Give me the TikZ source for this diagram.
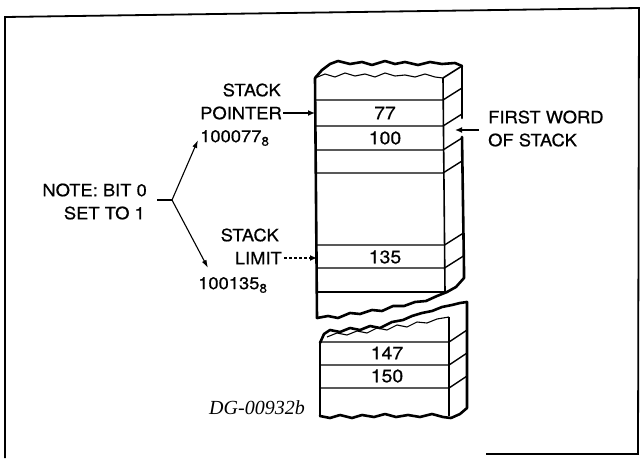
\documentclass[tikz,border=0pt]{standalone}
\usepackage{fontspec}
\setmainfont[FakeStretch=1.08,FakeBold=0.6]{TeX Gyre Heros}
\newfontfamily\capfont{Liberation Serif}
\usetikzlibrary{arrows.meta}
\newcommand{\octsub}[1]{\raisebox{-3.5pt}{\fontsize{12.5}{13}\selectfont #1}}
\begin{document}
\begin{tikzpicture}[x=1pt,y=-1pt,
  lbl/.style={font=\fontsize{17}{19}\selectfont, inner sep=0pt},
  cell/.style={font=\fontsize{18}{19}\selectfont, inner sep=0pt},
  edge/.style={line width=1.6pt, line join=round},
  thick edge/.style={line width=2.6pt, line join=round, line cap=round},
  rowline/.style={line width=1.4pt},
  ptr/.style={line width=1.3pt, -{Latex[length=7pt,width=6pt]}},
  dptr/.style={line width=1.3pt, dashed, dash pattern=on 3pt off 2pt, -{Latex[length=7pt,width=6pt]}},
  brn/.style={line width=1.1pt, -{Latex[length=8pt,width=5pt]}}]
\useasboundingbox (0,0) rectangle (640,458);
% frame
\draw[line width=1.8pt] (5,458) -- (5,17) -- (639,8) -- (638,454) -- (486,454);

% ---------- upper block ----------
\coordinate (ufl) at (315,78);
\coordinate (ufr) at (443,78);
\coordinate (ubr) at (462,66);
% top surface
\draw[thick edge] (315,78) -- (322,70) -- (330,64) -- (338,61) -- (350,64) -- (362,62) -- (372,65) -- (385,61) -- (395,64) -- (405,62) -- (418,65) -- (430,62) -- (442,64) -- (455,63) -- (ubr);
\draw[line width=1.1pt] (ufl) -- (325,74) -- (335,77) -- (345,73) -- (355,76) -- (365,74) -- (375,77) -- (385,73) -- (395,76) -- (405,75) -- (415,77) -- (425,74) -- (435,77) -- (ufr);
\draw[edge] (ufr) -- (ubr);
% front verticals
\draw[thick edge] (ufl) -- (317,318);
\draw[edge] (ufr) -- (445,292);
% side right edge with gap
\draw[thick edge] (ubr) -- (462,118);
\draw[thick edge] (462,137) -- (464,270) -- (464,278) -- (456,287) -- (447,292);
% bottom broken edge
\draw[thick edge] (317,318) -- (328,316) -- (338,318) -- (350,313) -- (360,314) -- (372,310) -- (382,311) -- (393,306) -- (404,306) -- (415,302) -- (426,301) -- (437,296) -- (447,292);
% rows
\foreach \y/\e in {100/0,126/0,150/0,173/0,245/1,268/1}{
  \draw[rowline] (315.5+\e*1.5,\y) -- (443+\e*1.5,\y) -- (462+\e*1.5,\y-12);
}
\draw[rowline] (317,292) -- (445,292);
\node[cell] (c77) at (385,113) {77};
\node[cell] (c100) at (385,138) {100};
\node[cell] (c135) at (385,257) {135};

% ---------- lower block ----------
\coordinate (lfl) at (320,342);
\coordinate (lfr) at (449,342);
\draw[thick edge] (320,343) -- (324,334) -- (330,330) -- (340,332) -- (350,328) -- (360,330) -- (370,326) -- (380,328) -- (392,322) -- (403,320) -- (412,316) -- (422,313) -- (432,311) -- (442,307) -- (452,305) -- (460,303) -- (467,302);
\draw[line width=1.1pt] (327,337) -- (337,333) -- (347,335) -- (357,331) -- (367,333) -- (377,328) -- (387,330) -- (397,325) -- (407,327) -- (417,322) -- (427,323) -- (437,319) -- (449,317);
\draw[edge] (449,317) -- (449,416);
\draw[thick edge] (467,302) -- (467,408) -- (460,414) -- (451,418);
\draw[thick edge] (320,342) -- (320,416);
\draw[thick edge] (320,416) -- (330,418) -- (340,415) -- (352,418) -- (362,415) -- (374,417) -- (385,414) -- (396,417) -- (408,415) -- (420,417) -- (432,414) -- (443,417) -- (451,418);
\foreach \y in {342,365,388}{
  \draw[rowline] (320,\y) -- (449,\y) -- (467,\y-12);
}
\node[cell] (c147) at (387,353) {147};
\node[cell] (c150) at (387,376) {150};

% ---------- labels ----------
\node[lbl, anchor=east] (sp1) at (281,90) {STACK};
\node[lbl, anchor=east] (sp2) at (282,113) {POINTER};
\node[lbl, anchor=west] (sp3) at (200,138) {100077\octsub{8}};
\coordinate (spt) at (315,113);
\draw[ptr] (sp2.east) ++(1pt,0) -- (spt);

\node[lbl, anchor=east] (sl1) at (279,235) {STACK};
\node[lbl, anchor=east] (sl2) at (282,258) {LIMIT};
\node[lbl, anchor=west] (sl3) at (198,285) {100135\octsub{8}};
\coordinate (slt) at (317,258);
\draw[dptr] (sl2.east) ++(2pt,0) -- (slt);

\node[lbl, anchor=east] (n1) at (147,190) {NOTE: BIT 0};
\node[lbl, anchor=east] (n2) at (145,213) {SET TO 1};
\coordinate (br) at (172,200);
\coordinate (bu) at (198,140);
\coordinate (bd) at (208,268);
\draw[line width=1.1pt] (157,200) -- (br);
\draw[brn] (br) -- (bu);
\draw[brn] (br) -- (bd);

\node[lbl, anchor=west] (fw1) at (488,117) {FIRST WORD};
\node[lbl, anchor=west] (fw2) at (488,140) {OF STACK};
\coordinate (fwt) at (455,130);
\draw[ptr] (479,130) -- (fwt);

\node[inner sep=0pt, font=\capfont\itshape\fontsize{20}{21}\selectfont] (dg) at (257,408) {DG-00932b};
\end{tikzpicture}
\end{document}
